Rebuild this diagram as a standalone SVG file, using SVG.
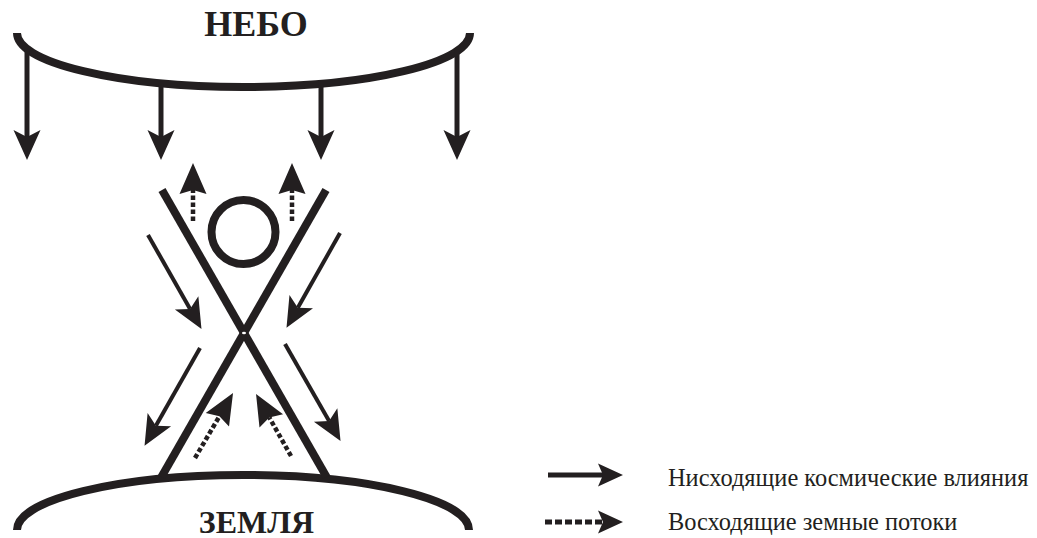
<svg xmlns="http://www.w3.org/2000/svg" width="1037" height="538" viewBox="0 0 1037 538">
<style>
.k{fill:none;stroke:#231f20;stroke-linecap:butt}
.arc{stroke-width:8}
.sh{stroke-width:5}
.th{stroke-width:4}
.ds{stroke-width:4.5;stroke-dasharray:4.5 2.5}
.lbl{font-family:"Liberation Serif","Times New Roman",serif;fill:#231f20}
.big{font-size:36px;font-weight:bold;text-anchor:middle}
.leg{font-size:24.4px}
</style>
<defs>
<marker id="hb" markerUnits="userSpaceOnUse" orient="auto" refX="0" refY="0" overflow="visible" markerWidth="1" markerHeight="1">
<path d="M-7,-13.5 L23,0 L-7,13.5 L0,0 Z" fill="#231f20"/>
</marker>
<marker id="hs" markerUnits="userSpaceOnUse" orient="auto" refX="0" refY="0" overflow="visible" markerWidth="1" markerHeight="1">
<path d="M-7,-13.5 L23,0 L-7,13.5 L0,0 Z" fill="#231f20"/>
</marker>
<marker id="hd" markerUnits="userSpaceOnUse" orient="auto" refX="0" refY="0" overflow="visible" markerWidth="1" markerHeight="1">
<path d="M-4,-13.5 L27,0 L-4,13.5 L0,0 Z" fill="#231f20"/>
</marker>
<marker id="hl" markerUnits="userSpaceOnUse" orient="auto" refX="0" refY="0" overflow="visible" markerWidth="1" markerHeight="1">
<path d="M-5,-11.5 L20,0 L-5,11.5 L0,0 Z" fill="#231f20"/>
</marker>
</defs>

<g id="heaven">
<path class="k arc" d="M17,33 A226.5,54 0 0 0 470,33"/>
<text class="lbl big" x="256" y="36">НЕБО</text>
</g>

<g id="earth">
<path class="k arc" d="M17,530 A226,55 0 0 1 469,530"/>
<text class="lbl big" x="256.5" y="533" style="font-size:32px">ЗЕМЛЯ</text>
</g>

<g id="human">
<line class="k arc" x1="162" y1="190" x2="326.6" y2="477"/>
<line class="k arc" x1="326" y1="190" x2="161.4" y2="477"/>
<ellipse cx="244" cy="333" rx="2" ry="1.2" fill="#fff"/>
<circle class="k arc" cx="243.5" cy="232" r="32"/>
</g>

<g id="connectors">
<line class="k sh" x1="27" y1="48" x2="27" y2="137" marker-end="url(#hb)"/>
<line class="k sh" x1="161" y1="84" x2="161" y2="137" marker-end="url(#hb)"/>
<line class="k sh" x1="321" y1="84" x2="321" y2="137" marker-end="url(#hb)"/>
<line class="k sh" x1="457" y1="49" x2="457" y2="137" marker-end="url(#hb)"/>

<line class="k th" x1="148" y1="235" x2="190.1" y2="308.9" marker-end="url(#hs)"/>
<line class="k th" x1="340" y1="233" x2="297.8" y2="307.8" marker-end="url(#hs)"/>
<line class="k th" x1="200" y1="348" x2="155.9" y2="425.8" marker-end="url(#hs)"/>
<line class="k th" x1="285" y1="344" x2="329.1" y2="421" marker-end="url(#hs)"/>

<line class="k ds" x1="193" y1="221" x2="193" y2="190" marker-end="url(#hd)"/>
<line class="k ds" x1="292" y1="221" x2="292" y2="190" marker-end="url(#hd)"/>
<line class="k ds" x1="195" y1="458" x2="219.4" y2="416.3" marker-end="url(#hd)"/>
<line class="k ds" x1="291" y1="456" x2="269.3" y2="417.5" marker-end="url(#hd)"/>
</g>

<g id="legend">
<line class="k sh" x1="548" y1="475" x2="603" y2="475" marker-end="url(#hl)"/>
<line class="k sh" x1="545" y1="522" x2="603" y2="522" style="stroke-dasharray:7 3" marker-end="url(#hl)"/>
<text class="lbl leg" x="668" y="486">Нисходящие космические влияния</text>
<text class="lbl leg" x="668" y="530">Восходящие земные потоки</text>
</g>
</svg>
